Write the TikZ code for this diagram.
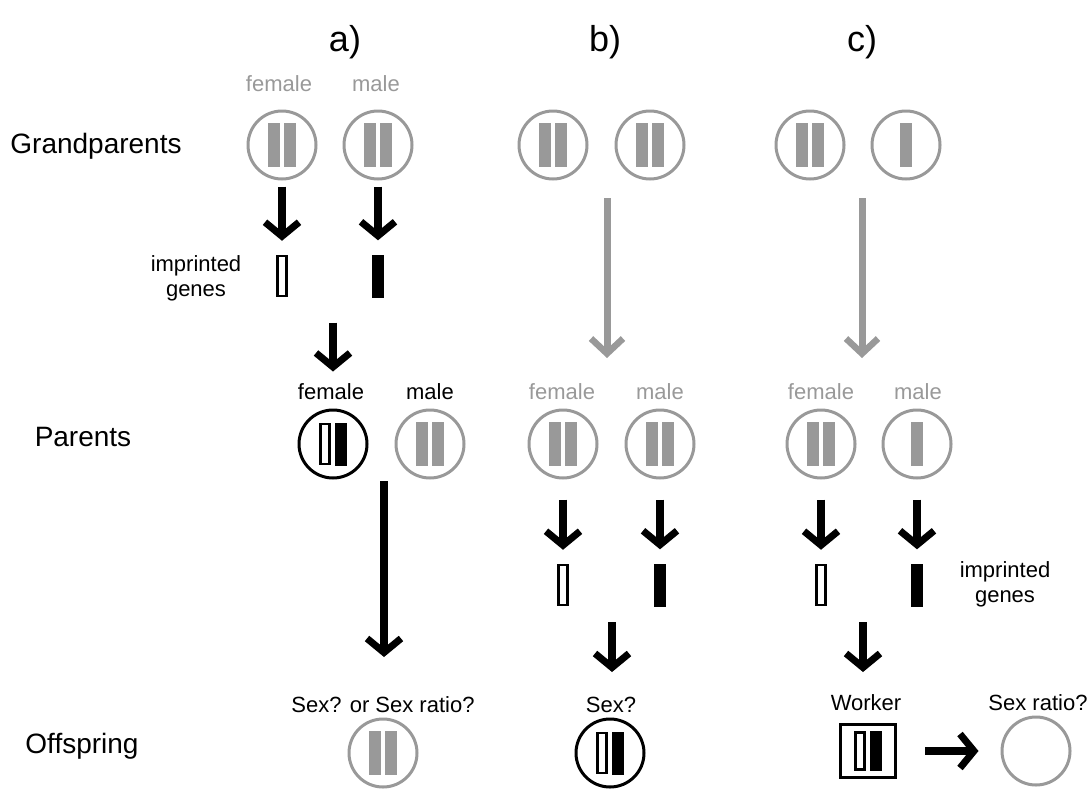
\documentclass[tikz,border=0pt]{standalone}
\usepackage{fontspec}
\setmainfont{Liberation Sans}
\usetikzlibrary{arrows.meta,calc}
\definecolor{gr}{HTML}{999999}
\tikzset{
 circ/.style={circle,draw=#1,line width=3pt,minimum size=68pt,inner sep=0},
 sqbox/.style={rectangle,draw=black,line width=3pt,minimum width=55pt,minimum height=53pt,inner sep=0},
 gbar/.style={rectangle,fill=gr,minimum width=12pt,minimum height=44pt,inner sep=0},
 obar/.style={rectangle,draw=black,fill=white,line width=2.5pt,minimum width=9pt,minimum height=40pt,inner sep=0},
 kbar/.style={rectangle,fill=black,minimum width=12pt,minimum height=43pt,inner sep=0},
 barr/.style={draw=black,line width=8pt,-{Straight Barb[length=14pt,width=34pt,line width=7pt]}},
 garr/.style={draw=gr,line width=7pt,-{Straight Barb[length=15pt,width=32pt,line width=6.5pt]}},
 lbl/.style={font=\fontsize{22}{25}\selectfont,text=#1,inner sep=0,align=center},
 big/.style={font=\fontsize{28}{32}\selectfont,inner sep=0},
 ttl/.style={font=\fontsize{36}{40}\selectfont,inner sep=0},
}
\newcommand\twobars[3]{\node[#2] (#1-l) at ($(#1)+(-8,0)$) {}; \node[#3] (#1-r) at ($(#1)+(8,0)$) {};}
\begin{document}
\begin{tikzpicture}[x=1pt,y=-1pt]
\useasboundingbox (0,0) rectangle (1089,790);
% titles
\node[ttl] (ta) at (345,42) {a)};
\node[ttl] (tb) at (605,42) {b)};
\node[ttl] (tc) at (862,42) {c)};
% row labels
\node[big] (rg) at (96,146) {Grandparents};
\node[big] (rp) at (83,437) {Parents};
\node[big] (ro) at (82,746) {Offspring};
% grandparents
\node[lbl=gr] (gaFl) at (279,84) {female};
\node[lbl=gr] (gaMl) at (376,84) {male};
\node[circ=gr] (gaF) at (282,145) {}; \twobars{gaF}{gbar}{gbar}
\node[circ=gr] (gaM) at (378,145) {}; \twobars{gaM}{gbar}{gbar}
\node[circ=gr] (gbF) at (553,145) {}; \twobars{gbF}{gbar}{gbar}
\node[circ=gr] (gbM) at (650,145) {}; \twobars{gbM}{gbar}{gbar}
\node[circ=gr] (gcF) at (810,145) {}; \twobars{gcF}{gbar}{gbar}
\node[circ=gr] (gcM) at (906,145) {}; \node[gbar] (gcM-s) at (gcM) {};
% a) imprinted genes
\node[obar] (iaF) at (282,276) {};
\node[kbar] (iaM) at (378,276) {};
\node[lbl=black] (iaT) at (196,278) {imprinted\\genes};
\coordinate (a1s) at ($(gaF.south)+(0,6)$);
\coordinate (a2s) at ($(gaM.south)+(0,6)$);
\draw[barr] (a1s) -- ($(iaF.north)+(0,-14)$);
\draw[barr] (a2s) -- ($(iaM.north)+(0,-14)$);
% parents
\node[lbl=black] (paFl) at (331,392) {female};
\node[lbl=black] (paMl) at (430,392) {male};
\node[circ=black] (paF) at (333,444) {}; \twobars{paF}{obar}{kbar}
\node[circ=gr] (paM) at (430,444) {}; \twobars{paM}{gbar}{gbar}
\coordinate (a3s) at ($(paF.north)+(0,-86)$);
\draw[barr] (a3s) -- ($(paF.north)+(0,-37)$);
\node[lbl=gr] (pbFl) at (562,392) {female};
\node[lbl=gr] (pbMl) at (660,392) {male};
\node[circ=gr] (pbF) at (563,444) {}; \twobars{pbF}{gbar}{gbar}
\node[circ=gr] (pbM) at (660,444) {}; \twobars{pbM}{gbar}{gbar}
\node[lbl=gr] (pcFl) at (821,392) {female};
\node[lbl=gr] (pcMl) at (918,392) {male};
\node[circ=gr] (pcF) at (821,444) {}; \twobars{pcF}{gbar}{gbar}
\node[circ=gr] (pcM) at (917,444) {}; \node[gbar] (pcM-s) at (pcM) {};
% gray arrows
\coordinate (bgs) at (607,198); \coordinate (bge) at (607,358);
\coordinate (cgs) at (862,198); \coordinate (cge) at (862,358);
\draw[garr] (bgs) -- (bge);
\draw[garr] (cgs) -- (cge);
% b), c) imprinted genes
\node[obar] (ibF) at (563,585) {};
\node[kbar] (ibM) at (660,585) {};
\node[obar] (icF) at (821,585) {};
\node[kbar] (icM) at (917,585) {};
\node[lbl=black] (icT) at (1005,584) {imprinted\\genes};
\draw[barr] ($(pbF.south)+(0,20)$) -- ($(ibF.north)+(0,-14)$);
\draw[barr] ($(pbM.south)+(0,20)$) -- ($(ibM.north)+(0,-14)$);
\draw[barr] ($(pcF.south)+(0,20)$) -- ($(icF.north)+(0,-14)$);
\draw[barr] ($(pcM.south)+(0,20)$) -- ($(icM.north)+(0,-14)$);
% offspring
\node[lbl=black] (oaL) at (383,705) {Sex? or Sex ratio?};
\node[circ=gr] (oa) at (383,753) {}; \twobars{oa}{gbar}{gbar}
\coordinate (a4s) at (384,481);
\draw[barr] (a4s) -- (a4s |- {$(oaL)+(0,-48)$});
\node[lbl=black] (obL) at (611,705) {Sex?};
\node[circ=black] (ob) at (610,753) {}; \twobars{ob}{obar}{kbar}
\coordinate (a5s) at (612,622);
\draw[barr] (a5s) -- (a5s |- {$(obL)+(0,-33)$});
\node[lbl=black] (ocL) at (866,703) {Worker};
\node[sqbox] (wk) at (868,751) {};
\node[obar,minimum height=37pt] (wk-l) at ($(wk)+(-8,0)$) {};
\node[kbar,minimum height=40pt] (wk-r) at ($(wk)+(8,0)$) {};
\coordinate (a6s) at (863,622);
\draw[barr] (a6s) -- (a6s |- {$(ocL)+(0,-31)$});
\node[lbl=black] (srL) at (1038,703) {Sex ratio?};
\node[circ=gr] (sr) at (1036,751) {};
\draw[barr] ($(wk.east)+(28,0)$) -- ($(sr.west)+(-22,0)$);
\end{tikzpicture}
\end{document}
